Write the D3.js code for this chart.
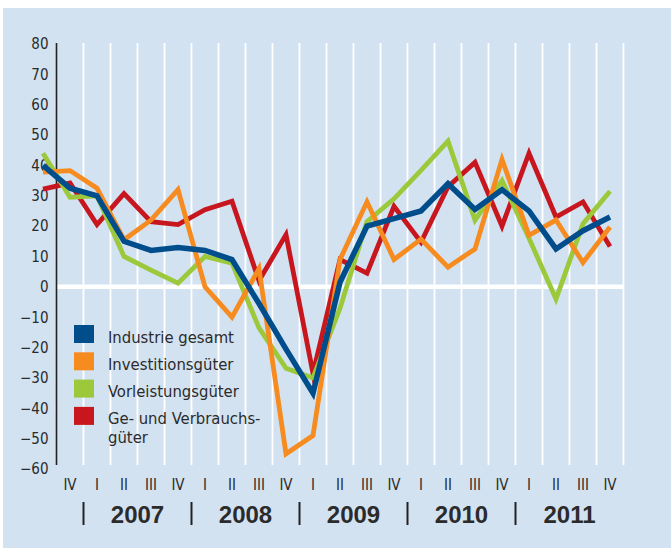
<!DOCTYPE html>
<html>
<head>
<meta charset="utf-8">
<script src="https://cdn.jsdelivr.net/npm/d3@7"></script>
<style>
  html, body { margin: 0; padding: 0; background: #ffffff; }
  svg { display: block; }
  text { font-family: "Liberation Sans Narrow", "DejaVu Sans Condensed", "Liberation Sans", sans-serif; fill: #2b2b2b; }
</style>
</head>
<body>
<svg id="chart" width="671" height="548"></svg>
<script>
// ---- data (quarters III/2006 .. IV/2011) ----
const quarters = ["III 2006","IV 2006",
  "I 2007","II 2007","III 2007","IV 2007",
  "I 2008","II 2008","III 2008","IV 2008",
  "I 2009","II 2009","III 2009","IV 2009",
  "I 2010","II 2010","III 2010","IV 2010",
  "I 2011","II 2011","III 2011","IV 2011"];
const quarterLabels = ["", "IV", "I","II","III","IV", "I","II","III","IV", "I","II","III","IV", "I","II","III","IV", "I","II","III","IV"];
const years = ["2007","2008","2009","2010","2011"];
const yTicks = [80,70,60,50,40,30,20,10,0,-10,-20,-30,-40,-50,-60];

const industrieGesamt    = [40, 32.5, 30, 15, 12, 13, 12, 9, -5.5, -20.5, -35, 1.5, 20, 22.5, 25, 34, 25.5, 32, 25, 12.5, 18.5, 23];
const investitionsgueter = [37.8, 38.3, 32.5, 15.5, 22, 32, 0, -10, 6, -55, -49, 9, 28, 9, 15.7, 6.5, 12.5, 42, 17, 22, 8, 19.7];
const vorleistungsgueter = [44, 29.5, 30, 10, 5.5, 1.2, 10, 7.8, -13.5, -26.8, -30, -7, 21.5, 29, 38.4, 48, 22, 35, 16, -4, 20.8, 31.5];
const verbrauchsgueter   = [32.2, 34.2, 20.5, 30.7, 21.5, 20.5, 25.4, 28.2, 2, 17.2, -28.5, 9, 4.5, 26.5, 14.7, 33, 41, 20, 44, 23, 28, 13.3];

const seriesNames = ["Industrie gesamt", "Investitionsgüter", "Vorleistungsgüter", "Ge- und Verbrauchs-\ngüter"];
const seriesColors = ["#004d8c", "#f68b1f", "#9cc93b", "#c8161e"];
const seriesValues = [industrieGesamt, investitionsgueter, vorleistungsgueter, verbrauchsgueter];
const drawOrder = [3, 2, 1, 0];

// ---- layout ----
const svg = d3.select("#chart");
svg.append("rect").attr("x", 3).attr("y", 8).attr("width", 668).attr("height", 540).attr("fill", "#d3e2f1");

const x = d3.scaleLinear().domain([0, quarters.length - 1]).range([43, 610]);
const y = d3.scaleLinear().domain([-60, 80]).range([469, 44]);

// vertical white gridlines between quarters
const gridIdx = d3.range(1.5, quarters.length, 1);
svg.append("g").selectAll("line").data(gridIdx).join("line")
  .attr("x1", d => x(d)).attr("x2", d => x(d))
  .attr("y1", y(80) - 1).attr("y2", y(-60) - 4)
  .attr("stroke", "#ffffff").attr("stroke-width", 1.8);

// zero line
svg.append("line")
  .attr("x1", x(0.5)).attr("x2", x(quarters.length - 0.5))
  .attr("y1", y(0)).attr("y2", y(0))
  .attr("stroke", "#ffffff").attr("stroke-width", 4.5);

// y axis
const yAxis = d3.axisLeft(y).tickValues(yTicks).tickSize(0).tickPadding(8).tickFormat(d3.format("d"));
const gy = svg.append("g").attr("transform", `translate(${x(0.5)},0)`).call(yAxis);
gy.select(".domain").attr("stroke", "#222").attr("stroke-width", 1.6)
  .attr("d", `M0,${y(80) - 1}V${y(-60) - 4}`);
gy.selectAll("text").style("font-size", "15px").attr("fill", "#2b2b2b")
  .style("font-family", "\"Liberation Sans Narrow\", \"DejaVu Sans Condensed\", sans-serif");

// lines
const line = d3.line().x((d, i) => x(i)).y(d => y(d)).curve(d3.curveLinear);
drawOrder.forEach(k => {
  svg.append("path").datum(seriesValues[k])
    .attr("d", line)
    .attr("fill", "none")
    .attr("stroke", seriesColors[k])
    .attr("stroke-width", k === 0 ? 5.5 : 4.8)
    .attr("stroke-linejoin", "miter")
    .attr("stroke-miterlimit", 10);
});

// quarter labels
svg.append("g").selectAll("text").data(quarterLabels.map((l, i) => ({l, i})).filter(d => d.l))
  .join("text")
  .attr("x", d => x(d.i)).attr("y", 490)
  .attr("text-anchor", "middle")
  .style("font-size", "15px")
  .text(d => d.l);

// year separators & labels
const yearStart = [2, 6, 10, 14, 18];
svg.append("g").selectAll("line").data(yearStart).join("line")
  .attr("x1", d => x(d - 0.5)).attr("x2", d => x(d - 0.5))
  .attr("y1", 502).attr("y2", 525)
  .attr("stroke", "#222").attr("stroke-width", 2);
svg.append("g").selectAll("text").data(years).join("text")
  .attr("x", (d, i) => x(yearStart[i] + 1.5)).attr("y", 523)
  .attr("text-anchor", "middle")
  .style("font-family", "\"Liberation Sans\", Arial, sans-serif")
  .style("font-weight", "bold").style("font-size", "24px")
  .attr("fill", "#231f20")
  .text(d => d);

// legend
const legend = svg.append("g");
seriesNames.forEach((name, k) => {
  const top = 325 + k * 27.3;
  legend.append("rect").attr("x", 74).attr("y", top).attr("width", 20).attr("height", 18)
    .attr("fill", seriesColors[k]);
  const t = legend.append("text").attr("x", 108).attr("y", top + 17.5)
    .style("font-size", "16.5px");
  name.split("\n").forEach((part, j) => {
    t.append("tspan").attr("x", 108).attr("dy", j === 0 ? 0 : 18.5).text(part);
  });
});
</script>
</body>
</html>
